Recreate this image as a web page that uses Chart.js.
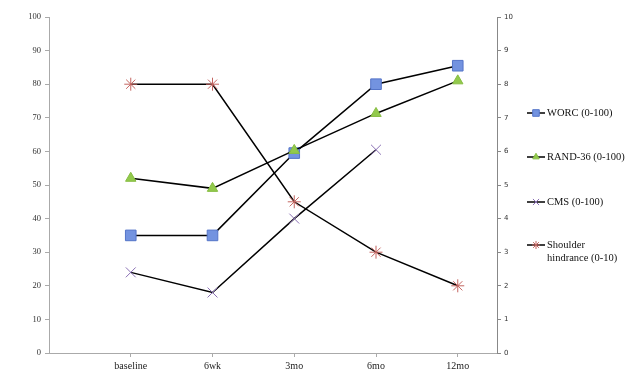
<!DOCTYPE html>
<html>
<head>
<meta charset="utf-8">
<script src="https://cdn.jsdelivr.net/npm/chart.js@4"></script>
<style>
  html, body { margin: 0; padding: 0; background: #fff; }
  #wrap { width: 640px; height: 384px; }
</style>
</head>
<body>
<div id="wrap"><canvas id="outcomeChart" width="640" height="384"></canvas></div>
<script>
// categories and values
const timepoints = ["baseline", "6wk", "3mo", "6mo", "12mo"];
const worc = [35, 35, 59.5, 80, 85.5];
const rand36 = [52, 49, 60.3, 71.3, 81];
const cms = [24, 18, 40, 60.5, null];
const shoulder = [8, 8, 4.5, 3, 2];
const leftTicks = [0, 10, 20, 30, 40, 50, 60, 70, 80, 90, 100];
const rightTicks = [0, 1, 2, 3, 4, 5, 6, 7, 8, 9, 10];
const seriesNames = ["WORC (0-100)", "RAND-36 (0-100)", "CMS (0-100)", ["Shoulder", "hindrance (0-10)"]];

const toPoints = (arr) => arr.map((v, i) => ({ x: i, y: v }));

const serif = "'Liberation Serif', 'Times New Roman', serif";

function makeSet(name, values, axis, style, fill, stroke, radius, order) {
  return {
    label: name,
    data: toPoints(values),
    yAxisID: axis,
    order: order,
    borderColor: "#000",
    borderWidth: 1.5,
    tension: 0,
    pointStyle: style,
    pointRadius: radius,
    pointHoverRadius: radius,
    pointBackgroundColor: fill,
    pointBorderColor: stroke,
    pointBorderWidth: 1,
  };
}

// RAND-36 sits on top of WORC where they meet at 3mo
const datasets = [
  makeSet(seriesNames[0], worc, "y", "rect", "#7393e0", "#5474c8", 7.5, 2),
  makeSet(seriesNames[1], rand36, "y", "triangle", "#92c94c", "#86bd42", 6, 1),
  makeSet(seriesNames[2], cms, "y", "crossRot", "#8a70b4", "#8a70b4", 7, 3),
  makeSet("Shoulder hindrance (0-10)", shoulder, "y2", "star", "#c46560", "#c46560", 6.5, 4),
];

// legend drawn at the right, one entry per series
const sideLegend = {
  id: "sideLegend",
  afterDraw(chart) {
    const ctx = chart.ctx;
    const rows = [113, 157, 202, 245];
    ctx.save();
    chart.data.datasets.forEach((ds, i) => {
      const y = rows[i];
      ctx.strokeStyle = "#000";
      ctx.lineWidth = 1.5;
      ctx.beginPath();
      ctx.moveTo(527, y);
      ctx.lineTo(545, y);
      ctx.stroke();
      ctx.fillStyle = ds.pointBackgroundColor;
      ctx.strokeStyle = ds.pointBorderColor;
      ctx.lineWidth = 1;
      Chart.helpers.drawPoint(ctx, {
        pointStyle: ds.pointStyle,
        rotation: 0,
        radius: ds.pointRadius * 0.62,
        borderWidth: 1,
      }, 536, y);
      ctx.fillStyle = "#111";
      ctx.font = "10.5px " + serif;
      ctx.textBaseline = "middle";
      const name = seriesNames[i];
      const lines = Array.isArray(name) ? name : [name];
      lines.forEach((t, k) => ctx.fillText(t, 547, y + k * 13));
    });
    ctx.restore();
  },
};

new Chart(document.getElementById("outcomeChart"), {
  type: "line",
  data: { datasets: datasets },
  options: {
    responsive: false,
    animation: false,
    events: [],
    layout: { padding: { top: 17, left: 0, right: 0, bottom: 0 } },
    plugins: { legend: { display: false }, tooltip: { enabled: false } },
    scales: {
      x: {
        type: "linear",
        min: -1,
        max: 4.48,
        afterBuildTicks: (scale) => { scale.ticks = timepoints.map((t, i) => ({ value: i })); },
        afterFit: (scale) => { scale.height = 31; },
        border: { display: true, color: "#aaa", width: 1 },
        grid: { drawOnChartArea: false, drawTicks: true, tickLength: 4, color: "#aaa" },
        ticks: {
          callback: (v) => timepoints[v],
          font: { family: serif, size: 10 },
          color: "#222",
          padding: 3,
          maxRotation: 0,
        },
      },
      y: {
        position: "left",
        min: 0,
        max: 100,
        afterBuildTicks: (scale) => { scale.ticks = leftTicks.map((v) => ({ value: v })); },
        afterFit: (scale) => { scale.width = 49; },
        border: { display: true, color: "#aaa", width: 1 },
        grid: { drawOnChartArea: false, drawTicks: true, tickLength: 4, color: "#aaa" },
        ticks: { font: { family: serif, size: 8.5 }, color: "#333", padding: 4 },
      },
      y2: {
        position: "right",
        min: 0,
        max: 10,
        afterBuildTicks: (scale) => { scale.ticks = rightTicks.map((v) => ({ value: v })); },
        afterFit: (scale) => { scale.width = 143; },
        border: { display: true, color: "#888", width: 1 },
        grid: { drawOnChartArea: false, drawTicks: true, tickLength: 4, color: "#888" },
        ticks: { font: { family: "'DejaVu Sans', sans-serif", size: 7 }, color: "#333", padding: 3 },
      },
    },
  },
  plugins: [sideLegend],
});
</script>
</body>
</html>
